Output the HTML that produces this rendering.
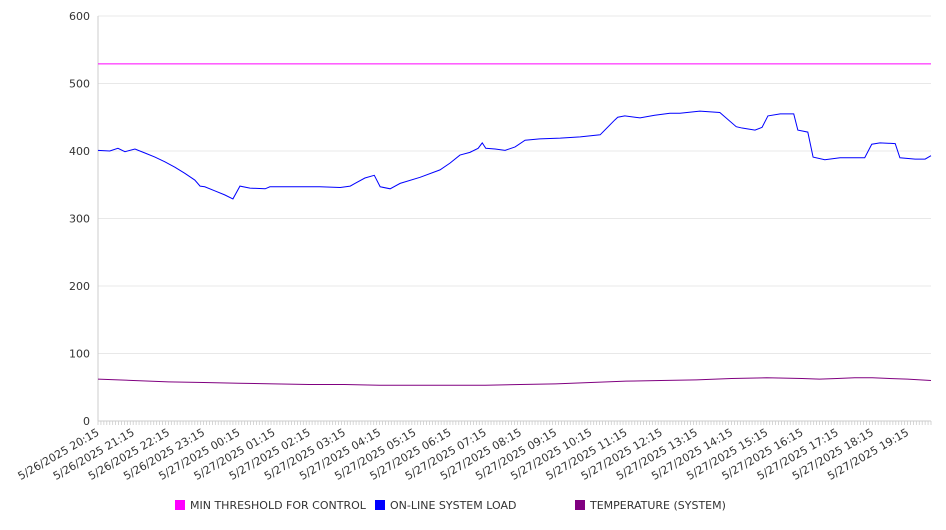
<!DOCTYPE html>
<html><head><meta charset="utf-8"><style>
body{margin:0;background:#fff;width:946px;height:526px;overflow:hidden;font-family:"DejaVu Sans","Liberation Sans",sans-serif}
svg text{font-family:"DejaVu Sans","Liberation Sans",sans-serif}
</style></head><body>
<svg id="chart" width="946" height="526" xmlns="http://www.w3.org/2000/svg">
<g id="grid"></g>
<g id="yaxis"></g>
<g id="xaxis"></g>
<g id="series"></g>
<g font-size="11" fill="#333">
<g><rect x="175" y="500" width="10" height="10" fill="#ff00ff"/><text x="190" y="509">MIN THRESHOLD FOR CONTROL</text></g>
<g><rect x="375" y="500" width="10" height="10" fill="#0000ff"/><text x="390" y="509">ON-LINE SYSTEM LOAD</text></g>
<g><rect x="575" y="500" width="10" height="10" fill="#800080"/><text x="590" y="509">TEMPERATURE (SYSTEM)</text></g>
</g>
</svg>
<script>
// minutes since 5/26/2025 20:15
const loadMinutes=[0,20,34,46,63,80,97,114,131,148,165,174,182,199,216,230,242,259,285,293,344,378,413,430,438,455,471,481,498,515,549,583,600,617,634,648,655,661,677,694,711,728,753,788,822,856,881,886,898,924,949,975,992,1026,1060,1088,1098,1120,1132,1142,1163,1186,1193,1210,1219,1239,1265,1307,1319,1333,1359,1367,1393,1410,1420];
const loadValues=[401,400,404,399,403,397,391,384,376,367,357,348,347,341,335,329,348,345,344,347,347,347,346,348,352,360,364,347,344,352,361,372,382,394,398,404,412,404,403,401,406,416,418,419,421,424,446,450,452,449,453,456,456,459,457,436,434,431,435,452,455,455,431,428,391,387,390,390,410,412,411,390,388,388,393];
const tempMinutes=[0,60,120,180,240,300,360,420,480,540,600,660,720,780,840,900,960,1020,1080,1140,1200,1230,1260,1290,1320,1380,1420];
const tempValues=[62,60,58,57,56,55,54,54,53,53,53,53,54,55,57,59,60,61,63,64,63,62,63,64,64,62,60];
const threshValue=529;
const yTicks=[0,100,200,300,400,500,600];
const xTickLabels=["5/26/2025 20:15","5/26/2025 21:15","5/26/2025 22:15","5/26/2025 23:15","5/27/2025 00:15","5/27/2025 01:15","5/27/2025 02:15","5/27/2025 03:15","5/27/2025 04:15","5/27/2025 05:15","5/27/2025 06:15","5/27/2025 07:15","5/27/2025 08:15","5/27/2025 09:15","5/27/2025 10:15","5/27/2025 11:15","5/27/2025 12:15","5/27/2025 13:15","5/27/2025 14:15","5/27/2025 15:15","5/27/2025 16:15","5/27/2025 17:15","5/27/2025 18:15","5/27/2025 19:15"];

const X0=98,X1=931,Y0=421,Y1=16,TOTAL=1420;
const xs=m=>X0+m*(X1-X0)/TOTAL;
const ys=v=>Y0-v*(Y0-Y1)/600;
const NS="http://www.w3.org/2000/svg";
function mk(tag,attrs,parent){const e=document.createElementNS(NS,tag);for(const k in attrs)e.setAttribute(k,attrs[k]);parent.appendChild(e);return e;}
const grid=document.getElementById('grid'),yax=document.getElementById('yaxis'),xax=document.getElementById('xaxis'),ser=document.getElementById('series');
yTicks.forEach(v=>{
  const l=mk('line',{x1:X0,x2:X1,y1:ys(v),y2:ys(v),stroke:v===0?'#ccc':'#e8e8e8','stroke-width':1},grid);
  
  
  const t=mk('text',{x:90,y:ys(v)+4,'text-anchor':'end','font-size':11,fill:'#333'},yax);
  t.textContent=v;
  
  
});
mk('line',{x1:X0,x2:X0,y1:Y1,y2:Y0,stroke:'#ccc'},yax);
for(let m=0;m<=TOTAL;m+=5){mk('line',{x1:xs(m),x2:xs(m),y1:Y0,y2:Y0+4,stroke:'#ccc','stroke-width':0.8},xax);}
xTickLabels.forEach((s,i)=>{
  const x=xs(i*60);
  const t=mk('text',{x:x,y:Y0+14,'text-anchor':'end','font-size':11,fill:'#333',transform:`rotate(-30 ${x} ${Y0+10})`},xax);
  t.textContent=s;
  
  
});
const th=mk('line',{x1:X0,x2:X1,y1:ys(threshValue),y2:ys(threshValue),stroke:'#ff00ff','stroke-width':1},ser);


const n1=Math.min(loadMinutes.length,loadValues.length);
const loadPts=[];for(let i=0;i<n1;i++)loadPts.push(xs(Math.min(loadMinutes[i],TOTAL))+','+ys(loadValues[i]));
const lp=mk('polyline',{points:loadPts.join(' '),fill:'none',stroke:'#0000ff','stroke-width':1},ser);


const n2=Math.min(tempMinutes.length,tempValues.length);
const tempPts=[];for(let i=0;i<n2;i++)tempPts.push(xs(Math.min(tempMinutes[i],TOTAL))+','+ys(tempValues[i]));
const tp=mk('polyline',{points:tempPts.join(' '),fill:'none',stroke:'#800080','stroke-width':1},ser);


</script>
</body></html>
